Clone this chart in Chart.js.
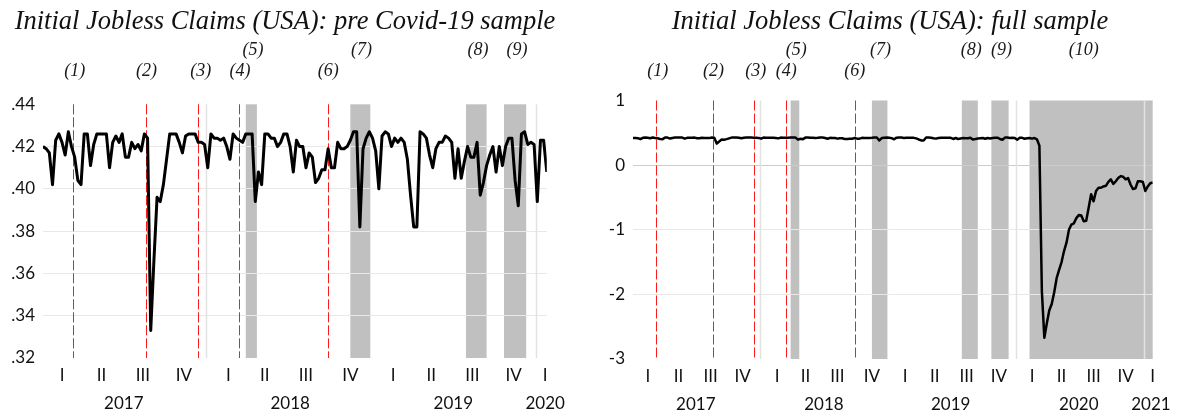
<!DOCTYPE html>
<html>
<head>
<meta charset="utf-8">
<title>Initial Jobless Claims (USA)</title>
<script src="https://cdn.jsdelivr.net/npm/chart.js@4.4.1/dist/chart.umd.min.js"></script>
<style>
  html, body { margin: 0; padding: 0; background: #fff; }
  #izq { position: absolute; left: 0; top: 0; width: 570px; height: 416px; }
  #der { position: absolute; left: 596px; top: 0; width: 588px; height: 416px; }
</style>
</head>
<body>
<div id="izq"><canvas id="graficoPre"></canvas></div>
<div id="der"><canvas id="graficoFull"></canvas></div>
<script>
// Datos semanales (indice 0 = primera semana de 2017)
const preCovid = [
  0.420, 0.419, 0.417, 0.402, 0.423, 0.426, 0.422, 0.416, 0.427, 0.420,
  0.415, 0.404, 0.402, 0.426, 0.426, 0.411, 0.421, 0.426, 0.426, 0.426,
  0.426, 0.410, 0.422, 0.425, 0.422, 0.426, 0.415, 0.415, 0.422, 0.419,
  0.421, 0.418, 0.426, 0.424, 0.333, 0.366, 0.396, 0.394, 0.402, 0.414,
  0.426, 0.426, 0.426, 0.422, 0.417, 0.425, 0.426, 0.426, 0.426, 0.422,
  0.422, 0.421, 0.410, 0.426, 0.424, 0.424, 0.423, 0.424, 0.420, 0.414,
  0.426, 0.424, 0.423, 0.422, 0.426, 0.426, 0.426, 0.394, 0.408, 0.402,
  0.426, 0.426, 0.424, 0.424, 0.420, 0.422, 0.426, 0.426, 0.420, 0.408,
  0.423, 0.420, 0.420, 0.410, 0.417, 0.415, 0.403, 0.405, 0.409, 0.409,
  0.419, 0.410, 0.410, 0.422, 0.419, 0.419, 0.420, 0.423, 0.427, 0.427,
  0.382, 0.419, 0.424, 0.427, 0.424, 0.418, 0.400, 0.425, 0.427, 0.426,
  0.420, 0.424, 0.422, 0.424, 0.422, 0.414, 0.397, 0.382, 0.382, 0.427,
  0.426, 0.424, 0.416, 0.410, 0.419, 0.422, 0.422, 0.425, 0.424, 0.422,
  0.405, 0.419, 0.405, 0.413, 0.420, 0.415, 0.415, 0.422, 0.397, 0.403,
  0.411, 0.416, 0.420, 0.408, 0.420, 0.411, 0.420, 0.424, 0.424, 0.404,
  0.392, 0.426, 0.427, 0.421, 0.422, 0.421, 0.394, 0.423, 0.423, 0.408
];
const covid = [
  0.415, 0.420, 0.410, 0.420, 0.400, 0.300, -1.95, -2.67, -2.45, -2.25,
  -2.15, -1.97, -1.75, -1.62, -1.50, -1.33, -1.20, -1.00, -0.92, -0.90,
  -0.82, -0.77, -0.78, -0.87, -0.86, -0.66, -0.45, -0.56, -0.40, -0.35,
  -0.35, -0.33, -0.32, -0.26, -0.22, -0.29, -0.25, -0.20, -0.17, -0.18,
  -0.22, -0.20, -0.30, -0.37, -0.36, -0.25, -0.25, -0.26, -0.40, -0.33,
  -0.28, -0.27
];
const fullSample = preCovid.concat(covid);

// Etiquetas del eje x (en semanas)
const quarterTicksPre = [6, 18.5, 31.5, 44.5, 58.5, 70, 83, 97, 110.5, 122.5, 135.5, 148.5, 158.5];
const quarterTicksFull = [6, 18.5, 31.5, 44.5, 58.5, 70, 83, 97, 110.5, 122.5, 135.5, 148.5, 162, 174, 187, 200, 211];
const quarterLabels = ['I', 'II', 'III', 'IV', 'I', 'II', 'III', 'IV', 'I', 'II', 'III', 'IV', 'I', 'II', 'III', 'IV', 'I'];
const yearTicksPre = [25.5, 78, 129.5, 158.5];
const yearTicksFull = [25.5, 77.5, 129, 181, 210.3];
const yearLabels = ['2017', '2018', '2019', '2020', '2021'];
const yTicksPre = [0.32, 0.34, 0.36, 0.38, 0.40, 0.42, 0.44];
const yTicksFull = [-3, -2, -1, 0, 1];

// Eventos
const redLines = [9.5, 32.5, 49, 62, 90];
const lightLines = [51.5, 155.5, 207.5];
const bands = [[64, 67.5], [97, 103.3], [133.5, 140], [145.5, 152.5], [161, 211]];
const eventLabels = ['(1)', '(2)', '(3)', '(4)', '(5)', '(6)', '(7)', '(8)', '(9)', '(10)'];
const eventLabelAt = [10, 32.7, 49.8, 62.2, 66.3, 90, 100.5, 137.3, 149.6, 183];
const eventRow = [2, 2, 2, 2, 1, 2, 1, 1, 1, 1];

const fuenteEjes = { family: 'Lato', size: 17 };

// Bandas grises, lineas verticales y etiquetas de eventos
const eventosPlugin = {
  id: 'eventos',
  beforeDraw(chart) {
    const { ctx, chartArea, scales } = chart;
    const x = scales.x;
    ctx.save();
    ctx.fillStyle = '#c0c0c0';
    bands.forEach(b => {
      if (b[0] > x.max) return;
      const x0 = x.getPixelForValue(b[0]);
      const x1 = x.getPixelForValue(Math.min(b[1], x.max));
      ctx.fillRect(x0, chartArea.top, x1 - x0, chartArea.bottom - chartArea.top);
    });
    ctx.restore();
  },
  beforeDatasetsDraw(chart) {
    const { ctx, chartArea, scales } = chart;
    const x = scales.x;
    ctx.save();
    ctx.lineWidth = 1.5;
    ctx.strokeStyle = '#e2e2e2';
    lightLines.forEach(v => {
      if (v > x.max) return;
      const px = Math.round(x.getPixelForValue(v)) + 0.5;
      ctx.beginPath();
      ctx.moveTo(px, chartArea.top);
      ctx.lineTo(px, chartArea.bottom);
      ctx.stroke();
    });
    ctx.lineWidth = 1;
    ctx.strokeStyle = '#ff1a1a';
    ctx.setLineDash([10, 3]);
    redLines.forEach(v => {
      const px = Math.round(x.getPixelForValue(v)) + 0.5;
      ctx.beginPath();
      ctx.moveTo(px, chartArea.top);
      ctx.lineTo(px, chartArea.bottom);
      ctx.stroke();
    });
    ctx.restore();
  },
  afterDraw(chart) {
    const { ctx, scales } = chart;
    const x = scales.x;
    ctx.save();
    ctx.font = 'italic 18px "Liberation Serif"';
    ctx.fillStyle = '#1a1a1a';
    ctx.textAlign = 'center';
    ctx.textBaseline = 'middle';
    eventLabels.forEach((txt, i) => {
      if (eventLabelAt[i] > x.max) return;
      const y = eventRow[i] === 1 ? 50 : 71;
      ctx.fillText(txt, x.getPixelForValue(eventLabelAt[i]), y);
    });
    ctx.restore();
  }
};

function crearGrafico(id, cfg) {
  const maxX = cfg.datos.length - 1;
  return new Chart(document.getElementById(id), {
    type: 'line',
    data: {
      datasets: [{
        data: cfg.datos.map((v, i) => ({ x: i, y: v })),
        borderColor: '#000',
        borderWidth: cfg.grosor,
        borderJoinStyle: 'round',
        pointRadius: 0,
        tension: 0,
        fill: false
      }]
    },
    options: {
      responsive: true,
      maintainAspectRatio: false,
      animation: false,
      layout: { padding: 0 },
      plugins: {
        legend: { display: false },
        tooltip: { enabled: false },
        title: {
          display: true,
          text: cfg.titulo,
          color: '#111',
          font: { family: 'Liberation Serif', style: 'italic', weight: 'normal', size: 26.5 },
          padding: { top: 6, bottom: cfg.padTitulo }
        }
      },
      scales: {
        x: {
          type: 'linear',
          position: 'bottom',
          weight: 0,
          min: 0,
          max: maxX,
          grid: { display: false, drawTicks: false },
          border: { display: false },
          afterBuildTicks: s => { s.ticks = cfg.quarters.map(v => ({ value: v })); },
          afterFit: s => { s.height = 30; },
          ticks: {
            autoSkip: false,
            maxRotation: 0,
            minRotation: 0,
            padding: 7,
            color: '#111',
            font: fuenteEjes,
            callback: (v, i) => quarterLabels[i]
          }
        },
        x2: {
          type: 'linear',
          position: 'bottom',
          weight: 1,
          min: 0,
          max: maxX,
          grid: { display: false, drawTicks: false },
          border: { display: false },
          afterBuildTicks: s => { s.ticks = cfg.years.map(v => ({ value: v })); },
          afterFit: s => { s.height = cfg.altoAnios; },
          ticks: {
            autoSkip: false,
            maxRotation: 0,
            minRotation: 0,
            padding: 5,
            color: '#111',
            font: fuenteEjes,
            callback: (v, i) => yearLabels[i]
          }
        },
        y: {
          min: cfg.yTicks[0],
          max: cfg.yTicks[cfg.yTicks.length - 1],
          afterBuildTicks: s => { s.ticks = cfg.yTicks.map(v => ({ value: v })); },
          afterFit: s => { s.width = cfg.anchoY; },
          border: { display: false },
          grid: {
            drawTicks: false,
            lineWidth: 1,
            color: c => {
              if (c.index === 0 || c.index === cfg.yTicks.length - 1) return 'rgba(0,0,0,0)';
              return c.tick.value === 0 ? '#cccccc' : '#e8e8e8';
            }
          },
          ticks: {
            padding: 8,
            color: '#111',
            font: fuenteEjes,
            callback: cfg.formato
          }
        },
        // eje vacio a la derecha, solo reserva margen
        margen: {
          position: 'right',
          grid: { display: false, drawTicks: false },
          border: { display: false },
          ticks: { display: false },
          afterFit: s => { s.width = cfg.margenDer; }
        }
      }
    },
    plugins: [eventosPlugin]
  });
}

crearGrafico('graficoPre', {
  datos: preCovid,
  titulo: 'Initial Jobless Claims (USA): pre Covid-19 sample',
  grosor: 3,
  margenDer: 22,
  padTitulo: 66.5,
  anchoY: 43,
  altoAnios: 28,
  quarters: quarterTicksPre,
  years: yearTicksPre,
  yTicks: yTicksPre,
  formato: v => v.toFixed(2).slice(1)
});

crearGrafico('graficoFull', {
  datos: fullSample,
  titulo: 'Initial Jobless Claims (USA): full sample',
  grosor: 2.5,
  margenDer: 31.3,
  padTitulo: 62.7,
  anchoY: 37,
  altoAnios: 27,
  quarters: quarterTicksFull,
  years: yearTicksFull,
  yTicks: yTicksFull,
  formato: v => String(v)
});
</script>
</body>
</html>
